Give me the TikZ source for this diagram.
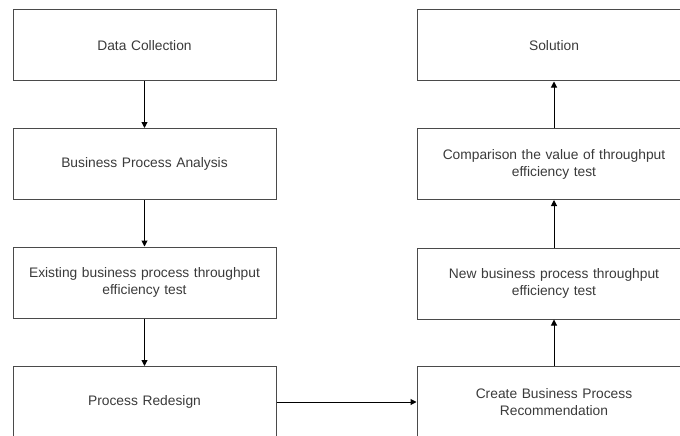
\documentclass[tikz,border=0pt]{standalone}
\usepackage{fontspec}
\setmainfont{Liberation Sans}
\usetikzlibrary{arrows.meta}
\definecolor{txt}{HTML}{3A3A3A}
\definecolor{edge}{HTML}{4A4A4A}
\begin{document}
\begin{tikzpicture}[x=1pt,y=-1pt,
  box/.style={draw=edge,line width=1pt,minimum width=263pt,minimum height=71pt,
    text width=250pt,align=center,inner sep=0pt,font=\fontsize{13.8}{17}\selectfont,text=txt},
  rbox/.style={box,minimum width=274pt},
  arr/.style={-{Triangle[length=6pt,width=6pt]},line width=1pt,black}]
\useasboundingbox (0,0) rectangle (680,436);
\begin{scope}
\clip (0,0) rectangle (680,436);
\node[box] (dc) at (144.5,45.5) {Data Collection};
\node[box] (bpa) at (144.5,164) {Business Process Analysis};
\node[box] (ex) at (144.5,282.5) {Existing business process throughput\\efficiency test};
\node[box] (pr) at (144.5,402) {Process Redesign};
\node[rbox] (sol) at (554,45.5) {Solution};
\node[rbox] (cmp) at (554,164) {Comparison the value of throughput\\efficiency test};
\node[rbox] (nb) at (554,283.5) {New business process throughput\\efficiency test};
\node[rbox] (cr) at (554,402) {Create Business Process\\Recommendation};
\draw[arr] (dc) -- (bpa);
\draw[arr] (bpa) -- (ex);
\draw[arr] (ex) -- (pr);
\draw[arr] (pr) -- (cr);
\draw[arr] (cr) -- (nb);
\draw[arr] (nb) -- (cmp);
\draw[arr] (cmp) -- (sol);
\end{scope}
\end{tikzpicture}
\end{document}
